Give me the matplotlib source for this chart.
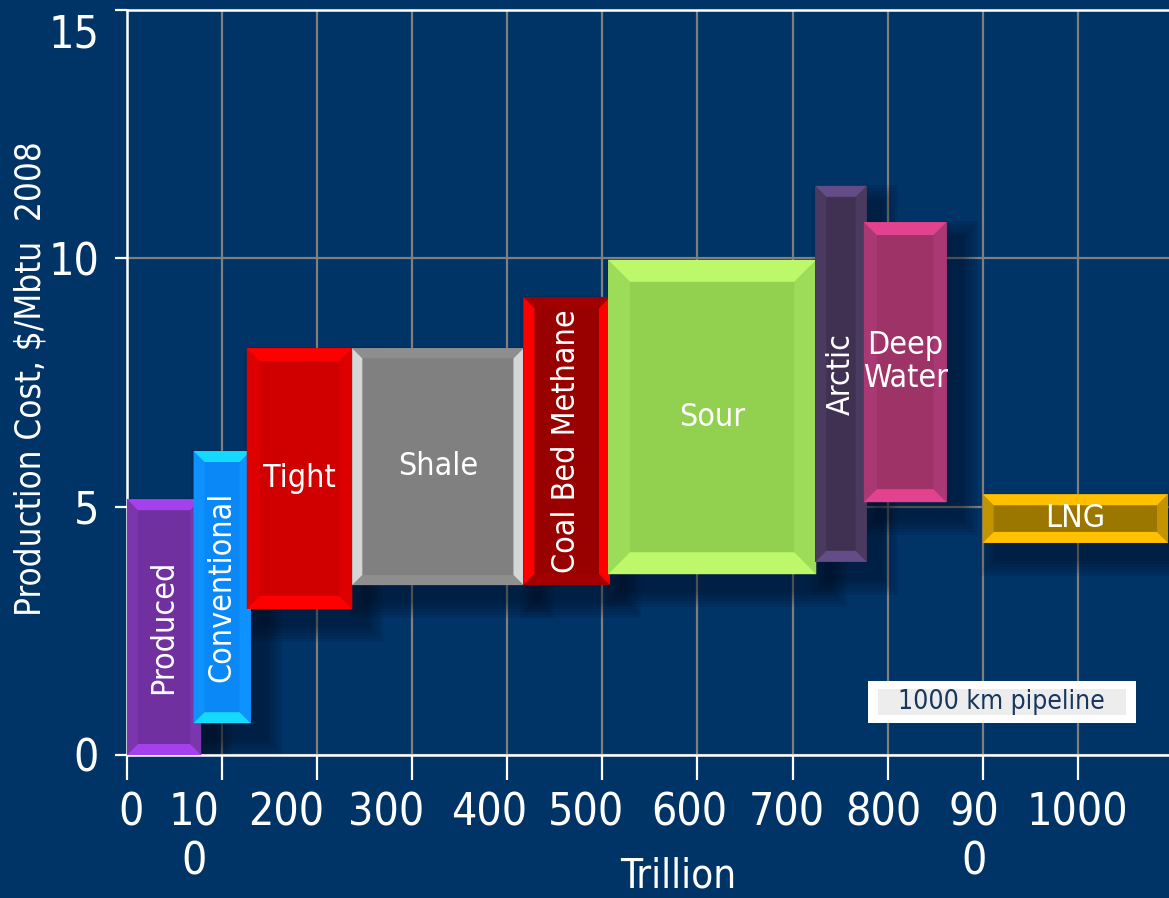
import matplotlib
matplotlib.use("Agg")
import matplotlib.pyplot as plt
from matplotlib import font_manager
from matplotlib.patches import Polygon, Rectangle
from matplotlib.transforms import ScaledTranslation

# ---------------- data ----------------
categories = ["Produced", "Conventional", "Tight", "Shale", "Coal Bed Methane",
              "Sour", "Arctic", "Deep Water", "LNG"]
bar_labels = ["Produced", "Conventional", "Tight", "Shale", "Coal Bed Methane",
              "Sour", "Arctic", "Deep\nWater", "LNG"]
x_start = [0, 70, 126, 237, 417, 506, 724, 775, 900]
x_end = [78, 130, 237, 417, 508, 725, 778, 862, 1095]
cost_low = [0.0, 0.64, 2.94, 3.42, 3.42, 3.64, 3.89, 5.09, 4.27]
cost_high = [5.15, 6.12, 8.19, 8.19, 9.22, 9.97, 11.46, 10.73, 5.25]

x_ticks = [0, 100, 200, 300, 400, 500, 600, 700, 800, 900, 1000]
x_tick_labels = ["0", "10\n0", "200", "300", "400", "500", "600", "700", "800", "90\n0", "1000"]
y_ticks = [0, 5, 10, 15]
y_tick_labels = ["0", "5", "10", "15"]

# ---------------- style ----------------
label_rotation = [90, 90, 0, 0, 90, 0, 90, 0, 0]
face_colors = ["#7030A0", "#0B88F8", "#D00000", "#808080", "#990000",
               "#92D050", "#403152", "#9E3368", "#9C7700"]
bevel_tb = ["#A541EC", "#14DAFF", "#FF0000", "#8E8E8E", "#A20000",
            "#BDF86A", "#644D86", "#E2428E", "#FFC000"]
bevel_lr = ["#7B36AE", "#0E92FF", "#DC0000", "#D6D6D6", "#FF0000",
            "#9CDC58", "#4A3A60", "#AA3874", "#C39300"]
bevel_px = [11, 11, 13, 10, 11, 22, 11, 13, 11]
xtick_offset_px = [4, -28, -31, -26, -18, -16, -8, -6, -4, -9, 0]

BG = "#003366"
GRID = "#7F7F7F"


def pick_font():
    for fam, stretch in [("Liberation Sans Narrow", "normal"),
                         ("DejaVu Sans", "condensed"),
                         ("Liberation Sans", "normal")]:
        try:
            fp = font_manager.FontProperties(family=fam, stretch=stretch)
            font_manager.findfont(fp, fallback_to_default=False)
            return fam, stretch
        except Exception:
            continue
    return "DejaVu Sans", "normal"


FAM, STRETCH = pick_font()
plt.rcParams["font.family"] = [FAM, "DejaVu Sans"]
plt.rcParams["font.stretch"] = STRETCH

W, H, DPI = 1169, 898, 100
fig = plt.figure(figsize=(W / DPI, H / DPI), dpi=DPI, facecolor=BG)
ax_rect = [127 / W, 143 / H, (W - 127) / W, 745 / H]
ax = fig.add_axes(ax_rect, facecolor=BG)

XMAX = 1096
ax.set_xlim(0, XMAX)
ax.set_ylim(0, 15)

px_per_x = ax_rect[2] * W / XMAX
px_per_y = ax_rect[3] * H / 15

# grid
ax.set_axisbelow(True)
ax.grid(True, color=GRID, linewidth=1.6, zorder=0.5)

# spines
ax.spines["right"].set_visible(False)
for s in ["left", "bottom", "top"]:
    ax.spines[s].set_color("white")
    ax.spines[s].set_linewidth(1.8)

# soft drop shadows (down-right)
for i in range(len(categories)):
    x0, x1 = x_start[i], x_end[i]
    y0, y1 = cost_low[i], cost_high[i]
    offx, offy = 14 / px_per_x, -16 / px_per_y
    for k in range(6):
        gx, gy = (2 + 3 * k) / px_per_x, (2 + 3 * k) / px_per_y
        ax.add_patch(Rectangle((x0 + offx - gx, y0 + offy - gy),
                               (x1 - x0) + 2 * gx, (y1 - y0) + 2 * gy,
                               facecolor="#000814", edgecolor="none",
                               alpha=0.08, zorder=1.5))

# bars with bevel
for i in range(len(categories)):
    x0, x1 = x_start[i], x_end[i]
    y0, y1 = cost_low[i], cost_high[i]
    dx = bevel_px[i] / px_per_x
    dy = bevel_px[i] / px_per_y
    z = 3 + i
    ax.add_patch(Rectangle((x0, y0), x1 - x0, y1 - y0, facecolor=face_colors[i],
                           edgecolor="none", zorder=z))
    top = [(x0, y1), (x1, y1), (x1 - dx, y1 - dy), (x0 + dx, y1 - dy)]
    bot = [(x0, y0), (x1, y0), (x1 - dx, y0 + dy), (x0 + dx, y0 + dy)]
    left = [(x0, y0), (x0, y1), (x0 + dx, y1 - dy), (x0 + dx, y0 + dy)]
    right = [(x1, y0), (x1, y1), (x1 - dx, y1 - dy), (x1 - dx, y0 + dy)]
    for poly, col in [(left, bevel_lr[i]), (right, bevel_lr[i]),
                      (top, bevel_tb[i]), (bot, bevel_tb[i])]:
        ax.add_patch(Polygon(poly, closed=True, facecolor=col, edgecolor="none",
                             zorder=z + 0.01))
    cx = (x0 + min(x1, XMAX)) / 2
    cy = (y0 + y1) / 2
    ax.text(cx, cy, bar_labels[i], rotation=label_rotation[i], ha="center",
            va="center", color="white", fontsize=23, zorder=z + 0.02,
            linespacing=1.1)

# note box
note_x = (779, 1061)
note_y = (0.64, 1.49)
ax.add_patch(Rectangle((note_x[0], note_y[0]), note_x[1] - note_x[0],
                       note_y[1] - note_y[0], facecolor="white",
                       edgecolor="none", zorder=20))
ax.add_patch(Rectangle((note_x[0] + 10 / px_per_x, note_y[0] + 8 / px_per_y),
                       note_x[1] - note_x[0] - 20 / px_per_x,
                       note_y[1] - note_y[0] - 16 / px_per_y, facecolor="#EDEDED",
                       edgecolor="none", zorder=20.5))
ax.text((note_x[0] + note_x[1]) / 2, (note_y[0] + note_y[1]) / 2, "1000 km pipeline",
        ha="center", va="center", color="#17375E", fontsize=19, zorder=21)

# ticks
ax.set_xticks(x_ticks)
ax.set_xticklabels(x_tick_labels)
ax.set_yticks(y_ticks)
ax.set_yticklabels(y_tick_labels)
ax.tick_params(axis="x", direction="out", length=18, width=1.6, colors="white",
               labelsize=32, pad=8)
ax.tick_params(axis="y", direction="out", length=9, width=1.6, colors="white",
               labelsize=32, pad=11)
for tick, off in zip(ax.xaxis.get_major_ticks(), xtick_offset_px):
    tick.label1.set_transform(tick.label1.get_transform() +
                              ScaledTranslation(off / DPI, 0, fig.dpi_scale_trans))
for tick, lab in zip(ax.yaxis.get_major_ticks(), y_tick_labels):
    if lab == "15":
        tick.label1.set_transform(tick.label1.get_transform() +
                                  ScaledTranslation(0, -20 / DPI, fig.dpi_scale_trans))

ax.set_xlabel("Trillion", color="white", fontsize=29)
ax.xaxis.set_label_coords(0.529, -0.190)
ax.xaxis.label.set_va("bottom")
ax.set_ylabel("Production Cost, $/Mbtu  2008", color="white", fontsize=25)
ax.yaxis.set_label_coords(-0.093, 0.505)
ax.yaxis.label.set_va("center")

fig.savefig("out.png", dpi=DPI, facecolor=BG)
